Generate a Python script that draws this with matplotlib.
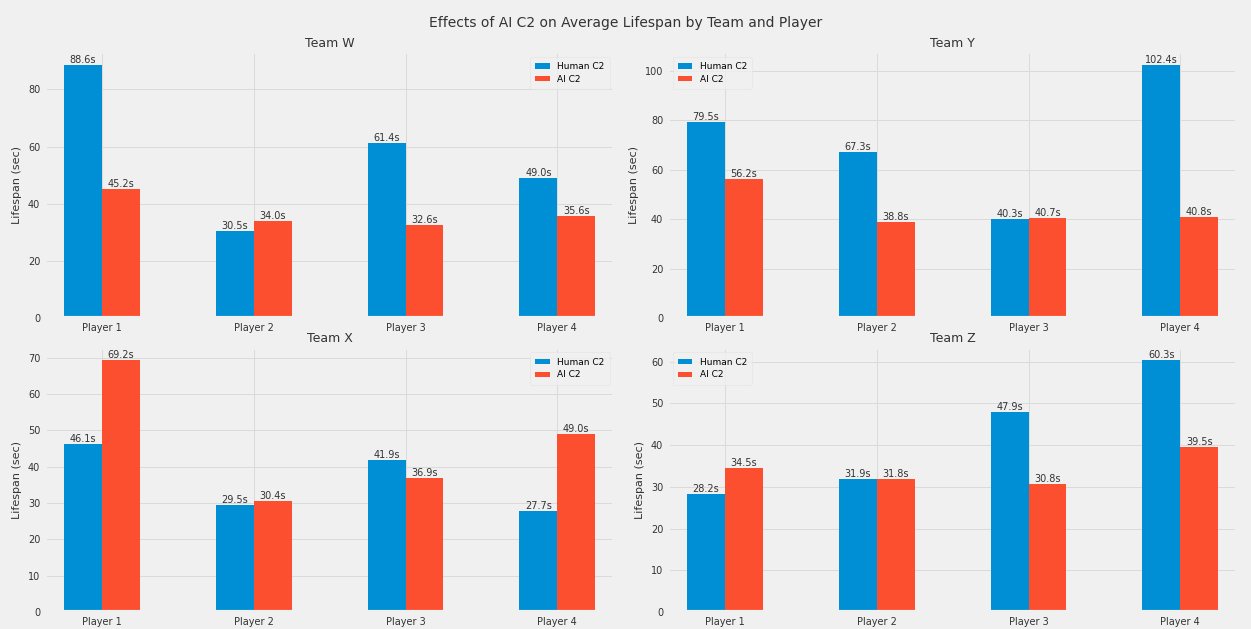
import matplotlib
matplotlib.use("Agg")
import matplotlib.pyplot as plt
import numpy as np

plt.style.use("fivethirtyeight")

players = ["Player 1", "Player 2", "Player 3", "Player 4"]
teams = ["Team W", "Team Y", "Team X", "Team Z"]

human_w = [88.6, 30.5, 61.4, 49.0]
ai_w = [45.2, 34.0, 32.6, 35.6]
human_y = [79.5, 67.3, 40.3, 102.4]
ai_y = [56.2, 38.8, 40.7, 40.8]
human_x = [46.1, 29.5, 41.9, 27.7]
ai_x = [69.2, 30.4, 36.9, 49.0]
human_z = [28.2, 31.9, 47.9, 60.3]
ai_z = [34.5, 31.8, 30.8, 39.5]

human = [human_w, human_y, human_x, human_z]
ai = [ai_w, ai_y, ai_x, ai_z]
legend_locs = ["upper right", "upper left", "upper right", "upper left"]

fig = plt.figure(figsize=(12.51, 6.29), dpi=100)
fig.patch.set_facecolor("#f0f0f0")

# axes boxes: left, bottom, width, height
boxes = [
    [0.036, 0.494, 0.455, 0.423],
    [0.534, 0.494, 0.455, 0.423],
    [0.036, 0.027, 0.455, 0.420],
    [0.534, 0.027, 0.455, 0.420],
]

x = np.arange(len(players))
w = 0.25
for i in range(4):
    ax = fig.add_axes(boxes[i])
    b1 = ax.bar(x - w / 2, human[i], width=w, color="#008fd5", label="Human C2",
                linewidth=0)
    b2 = ax.bar(x + w / 2, ai[i], width=w, color="#fc4f30", label="AI C2",
                linewidth=0)
    for bars in (b1, b2):
        for r in bars:
            h = r.get_height()
            ax.text(r.get_x() + r.get_width() / 2, h, f"{h:.1f}s",
                    ha="center", va="bottom", fontsize=7, color="#333333")
    ax.set_xticks(x)
    ax.set_xticklabels(players, fontsize=7, color="#333333")
    ax.tick_params(axis="y", labelsize=7, labelcolor="#333333")
    ax.set_xlim(-0.375, 3.375)
    ax.set_title(teams[i], fontsize=9, color="#333333", pad=4)
    ax.set_ylabel("Lifespan (sec)", fontsize=8, color="#333333")
    ax.grid(True, color="#dadada", linewidth=0.7)
    ax.set_axisbelow(True)
    leg = ax.legend(loc=legend_locs[i], fontsize=6.5, frameon=True,
                    handlelength=1.6, handleheight=0.5, borderpad=0.6,
                    labelspacing=0.4)
    leg.get_frame().set_facecolor("#f0f0f0")
    leg.get_frame().set_edgecolor("#e2e2e2")

fig.suptitle("Effects of AI C2 on Average Lifespan by Team and Player",
             fontsize=10, color="#333333", y=0.975)

fig.savefig("out.png", dpi=100, facecolor=fig.get_facecolor())
